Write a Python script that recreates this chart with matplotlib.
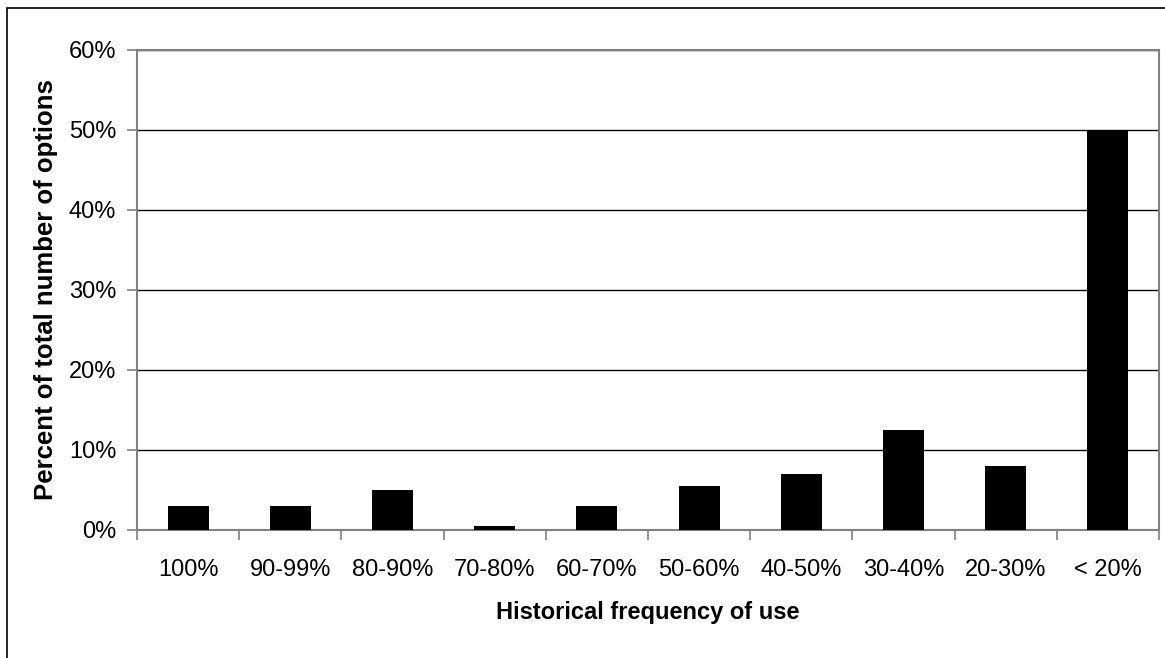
import matplotlib
matplotlib.use('Agg')
import matplotlib.pyplot as plt
from matplotlib.patches import Rectangle
from matplotlib.ticker import FuncFormatter, FixedLocator
import numpy as np

plt.rcParams['font.family'] = ['Liberation Sans', 'DejaVu Sans']

categories = ['100%', '90-99%', '80-90%', '70-80%', '60-70%',
              '50-60%', '40-50%', '30-40%', '20-30%', '< 20%']
percent_options = [3, 3, 5, 0.5, 3, 5.5, 7, 12.5, 8, 50]

fig = plt.figure(figsize=(11.65, 6.58), dpi=100)
# outer chart frame
fig.patches.append(Rectangle((7 / 1165, -0.05), 1.2, (658 - 8) / 658 + 0.05,
                             transform=fig.transFigure, fill=False,
                             edgecolor='black', linewidth=1.2))

ax = fig.add_axes([137 / 1165, (658 - 530) / 658, (1159 - 137) / 1165, 480 / 658])
x = np.arange(len(categories))
ax.bar(x, percent_options, width=0.4, color='black', zorder=3)

ax.set_xlim(-0.5, len(categories) - 0.5)
ax.set_ylim(0, 60)
ax.set_yticks(np.arange(0, 61, 10))
ax.yaxis.set_major_formatter(FuncFormatter(lambda v, p: f'{v:.0f}%'))
ax.yaxis.grid(True, color='black', linewidth=1)
ax.set_axisbelow(True)

ax.set_xticks(x)
ax.set_xticklabels(categories)
ax.xaxis.set_minor_locator(FixedLocator(np.arange(-0.5, len(categories), 1)))
ax.tick_params(axis='x', which='major', length=0, labelsize=17, pad=21)
ax.tick_params(axis='x', which='minor', length=7, color='#808080', width=1.2)
ax.tick_params(axis='y', length=7, labelsize=17, pad=8, color='#808080', width=1.2)

for side in ['top', 'right', 'bottom', 'left']:
    ax.spines[side].set_color('#808080')
    ax.spines[side].set_linewidth(1.5)

ax.set_xlabel('Historical frequency of use', fontsize=17, fontweight='bold', labelpad=14)
ax.set_ylabel('Percent of total number of options', fontsize=18.5, fontweight='bold', labelpad=8)

fig.savefig('out.png', dpi=100)
